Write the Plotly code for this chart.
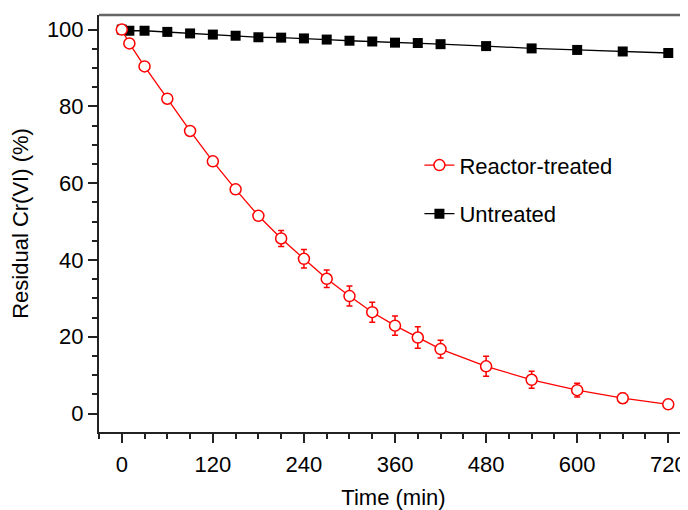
import plotly.graph_objects as go

time_treated = [0, 10, 30, 60, 90, 120, 150, 180, 210, 240, 270, 300, 330, 360, 390, 420, 480, 540, 600, 660, 720]
cr_treated = [100, 96.4, 90.4, 82.0, 73.6, 65.7, 58.4, 51.5, 45.6, 40.3, 35.1, 30.6, 26.4, 22.9, 19.8, 16.8, 12.3, 8.8, 6.1, 4.0, 2.4]
err_treated = [0.5, 0.5, 0.5, 0.6, 0.7, 1.0, 1.2, 0.8, 2.1, 2.4, 2.3, 2.6, 2.6, 2.5, 2.8, 2.3, 2.6, 2.2, 1.8, 1.3, 0.5]

time_untreated = [0, 10, 30, 60, 90, 120, 150, 180, 210, 240, 270, 300, 330, 360, 390, 420, 480, 540, 600, 660, 720]
cr_untreated = [100, 99.7, 99.7, 99.4, 99.0, 98.7, 98.4, 98.0, 97.9, 97.7, 97.4, 97.1, 96.9, 96.6, 96.5, 96.2, 95.7, 95.1, 94.7, 94.3, 93.9]

x_ticks = [0, 120, 240, 360, 480, 600, 720]
y_ticks = [0, 20, 40, 60, 80, 100]

FONT = "Arial, Liberation Sans, sans-serif"
FS = 22

fig = go.Figure()
fig.add_trace(go.Scatter(
    x=time_untreated, y=cr_untreated, name="Untreated", mode="lines+markers",
    line=dict(color="black", width=1.3),
    marker=dict(symbol="square", size=10, color="black"),
    legendrank=2, legendgroup="b",
))
fig.add_trace(go.Scatter(
    x=time_treated, y=cr_treated, name="Reactor-treated", mode="lines+markers",
    line=dict(color="#ff0000", width=1.3),
    marker=dict(symbol="circle", size=11, color="white", line=dict(color="#ff0000", width=1.5)),
    error_y=dict(type="data", array=err_treated, visible=True, color="#ff0000", thickness=1.5, width=3),
    legendrank=1, legendgroup="a",
))

axis_common = dict(
    showgrid=False, zeroline=False, showline=True, linecolor="#222", linewidth=2,
    ticks="outside", ticklen=9, tickwidth=1.5, tickcolor="#222",
    tickfont=dict(family=FONT, size=FS, color="black"),
)

fig.update_xaxes(
    range=[-30, 746], tickvals=x_ticks, ticktext=[str(v) for v in x_ticks],
    minor=dict(dtick=30, ticklen=5, tickwidth=1.5, tickcolor="#222", ticks="outside"),
    ticklabelstandoff=3,
    title=dict(text="Time (min)", font=dict(family=FONT, size=FS, color="black"), standoff=14),
    **axis_common,
)
fig.update_yaxes(
    range=[-4.8, 103.8], tickvals=y_ticks, ticktext=[str(v) for v in y_ticks],
    minor=dict(dtick=5, ticklen=5, tickwidth=1.5, tickcolor="#222", ticks="outside"),
    title=dict(text="Residual Cr(VI) (%)", font=dict(family=FONT, size=FS, color="black"), standoff=14),
    **axis_common,
)

fig.add_shape(type="line", xref="paper", yref="paper", x0=0, x1=1, y0=1, y1=1,
              line=dict(color="#666", width=2.5))

fig.update_layout(
    width=680, height=502,
    margin=dict(l=91, r=0, t=7, b=78),
    paper_bgcolor="white", plot_bgcolor="white",
    font=dict(family=FONT, color="black"),
    legend=dict(x=0.544, y=0.69, xanchor="left", yanchor="top",
                font=dict(family=FONT, size=FS, color="black"),
                bgcolor="rgba(0,0,0,0)", tracegroupgap=17),
    showlegend=True,
)

fig.write_html("out.html")
